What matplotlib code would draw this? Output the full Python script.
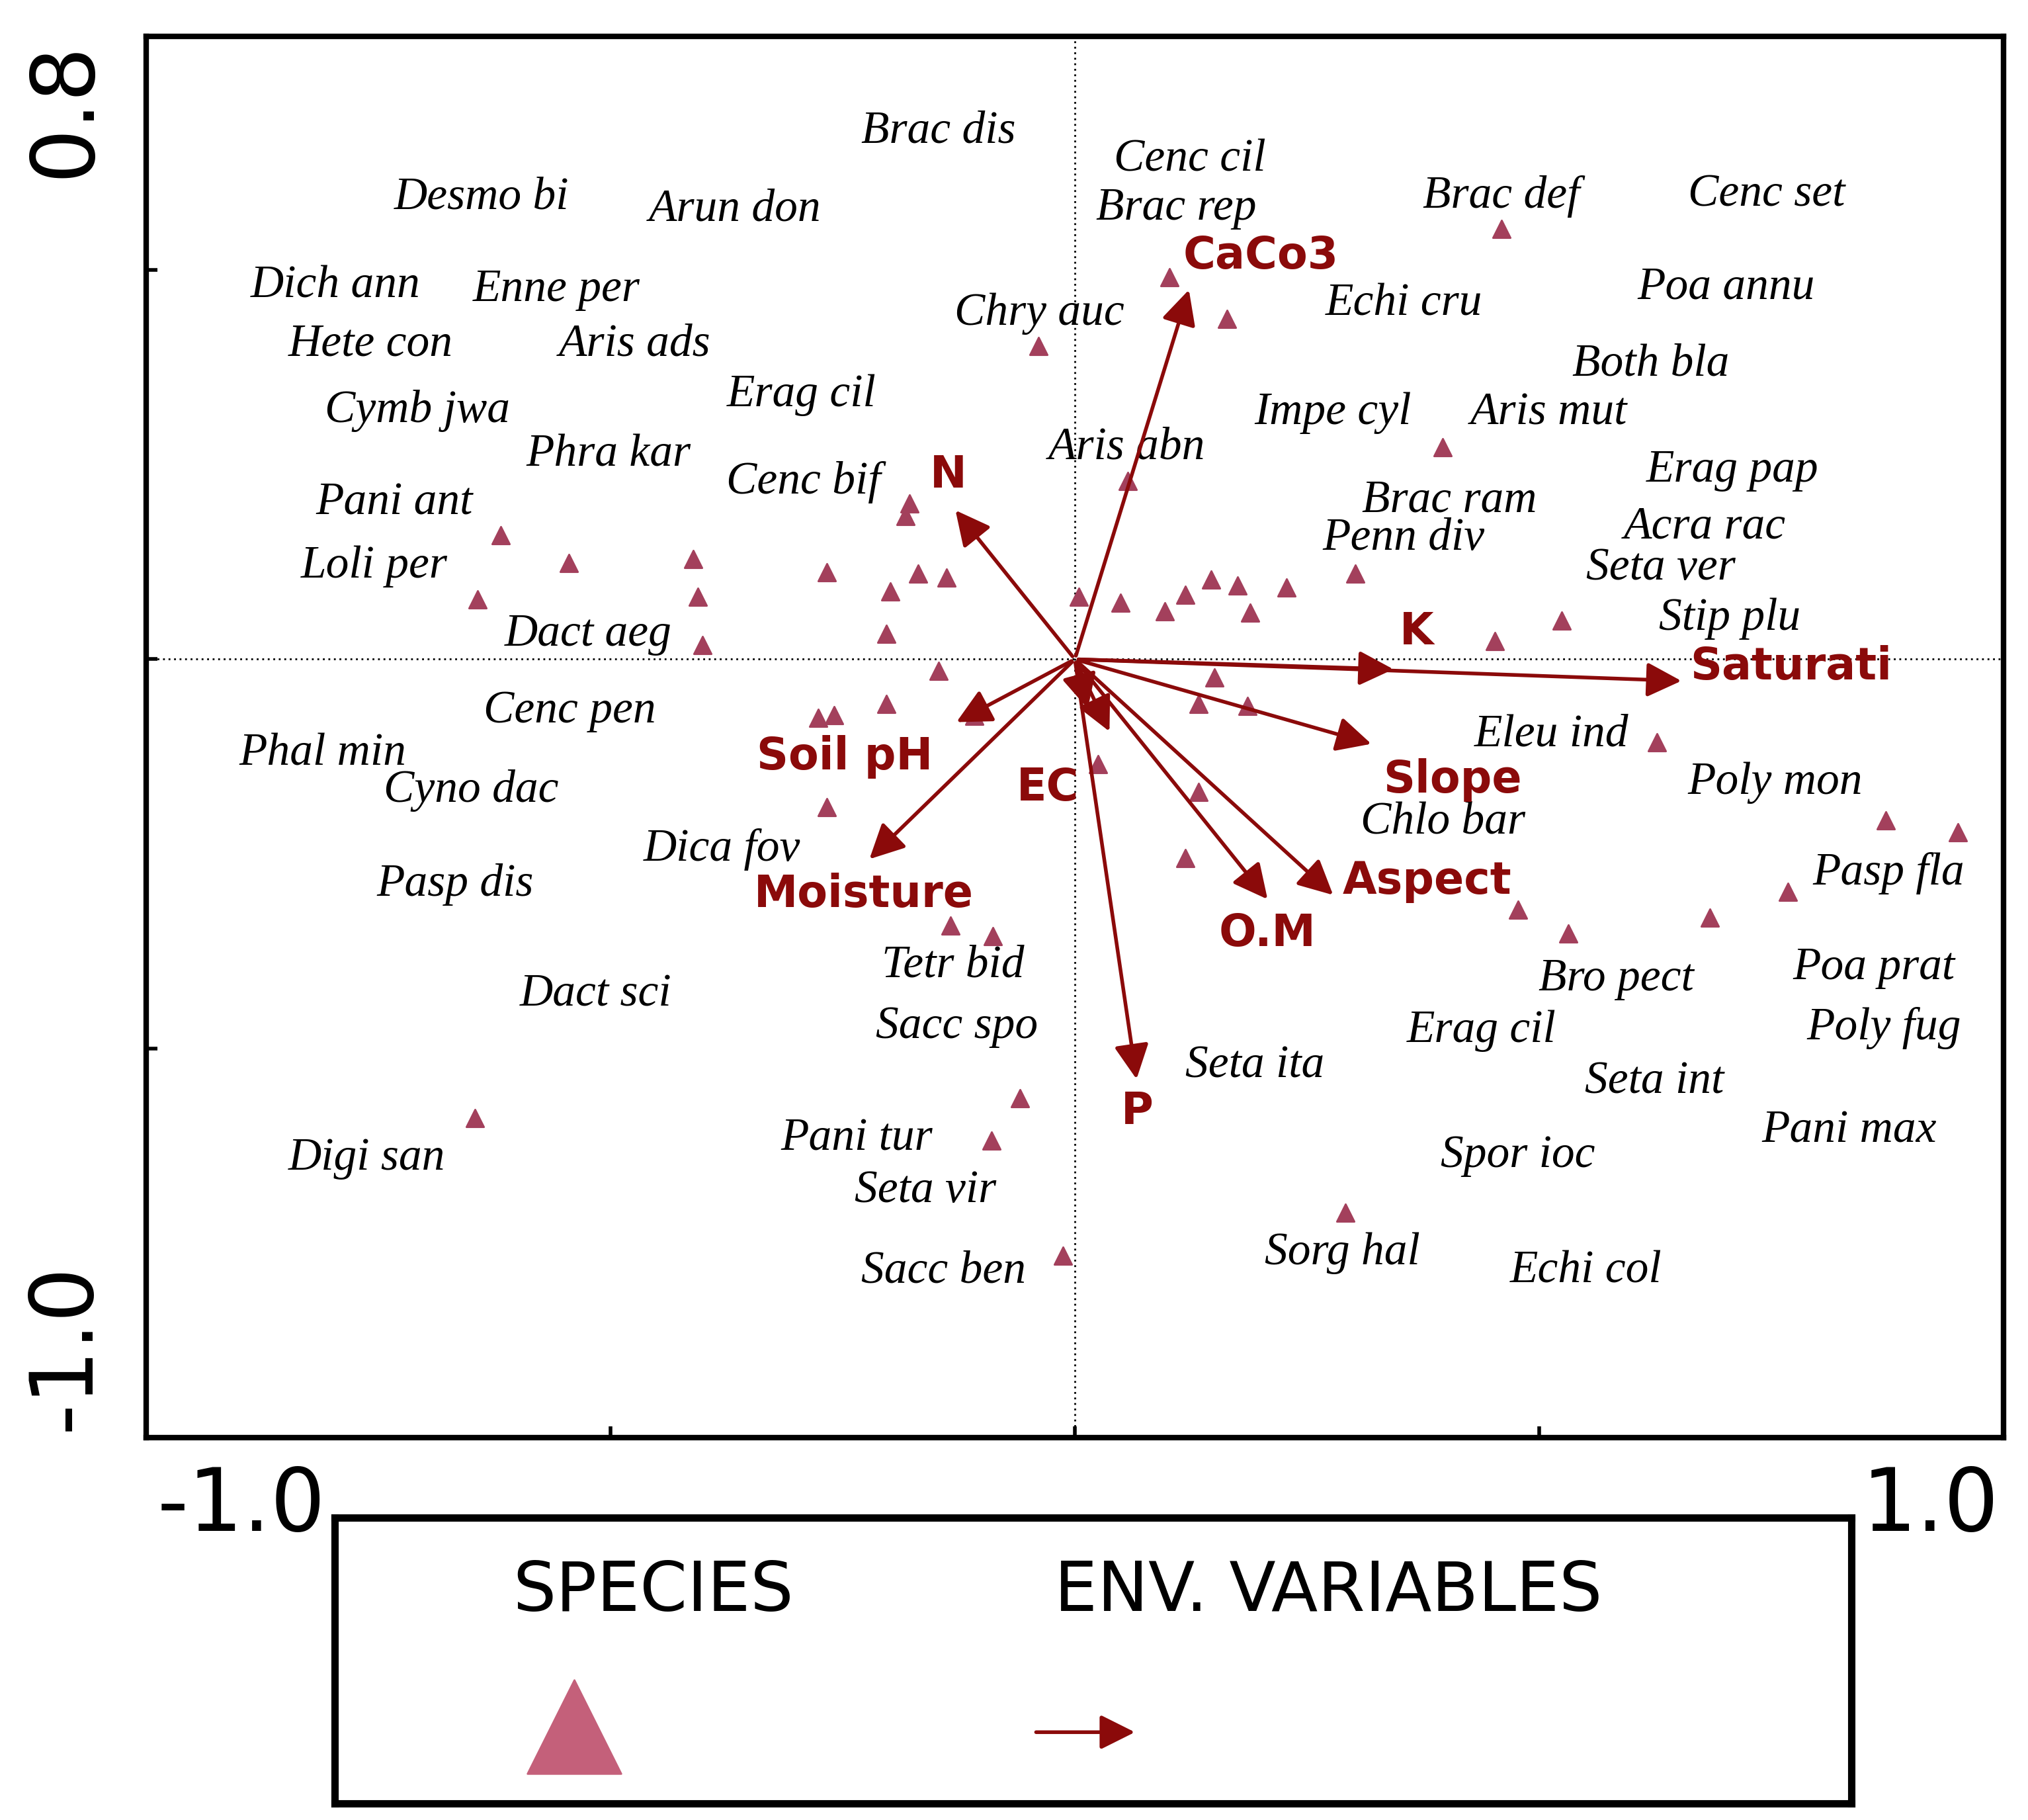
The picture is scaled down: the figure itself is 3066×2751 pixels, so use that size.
import matplotlib.pyplot as plt
from matplotlib.patches import FancyArrowPatch

# species scores (triangles)
sp_x = [-0.618, -0.545, -0.411, -0.643, -0.406, -0.401, -0.267, -0.178, -0.182, -0.169,
        -0.138, -0.199, -0.203, -0.147, -0.276, -0.259, -0.203, -0.108, -0.267, -0.134,
        -0.088, -0.059, -0.090, -0.013, -0.646, -0.039, 0.102, 0.164, 0.057, 0.004,
        0.049, 0.097, 0.119, 0.147, 0.175, 0.189, 0.228, 0.302, 0.396, 0.459,
        0.452, 0.524, 0.150, 0.133, 0.186, 0.025, 0.133, 0.119, 0.477, 0.531,
        0.684, 0.768, 0.873, 0.951, 0.627, 0.291]
sp_y = [0.159, 0.124, 0.129, 0.077, 0.080, 0.018, 0.112, 0.200, 0.184, 0.110,
        0.105, 0.087, 0.033, -0.015, -0.075, -0.072, -0.057, -0.073, -0.190, -0.342,
        -0.356, -0.564, -0.618, -0.766, -0.589, 0.402, 0.491, 0.437, 0.229, 0.080,
        0.073, 0.062, 0.083, 0.102, 0.095, 0.060, 0.092, 0.110, 0.272, 0.553,
        0.023, 0.050, -0.023, -0.057, -0.060, -0.135, -0.170, -0.255, -0.322, -0.352,
        -0.332, -0.299, -0.207, -0.222, -0.107, -0.711]

# species names and where they are written
names = ["Brac dis", "Cenc cil", "Desmo bi", "Arun don", "Brac rep", "Brac def", "Cenc set",
         "Dich ann", "Enne per", "Chry auc", "Echi cru", "Poa annu", "Hete con", "Aris ads",
         "Both bla", "Erag cil", "Cymb jwa", "Impe cyl", "Aris mut", "Phra kar", "Aris abn",
         "Cenc bif", "Erag pap", "Pani ant", "Brac ram", "Acra rac", "Penn div", "Loli per",
         "Seta ver", "Dact aeg", "Stip plu", "Cenc pen", "Eleu ind", "Phal min", "Cyno dac",
         "Poly mon", "Chlo bar", "Dica fov", "Pasp fla", "Pasp dis", "Tetr bid", "Bro pect",
         "Poa prat", "Dact sci", "Sacc spo", "Erag cil", "Poly fug", "Seta ita", "Seta int",
         "Pani max", "Pani tur", "Spor ioc", "Digi san", "Seta vir", "Sorg hal", "Sacc ben",
         "Echi col"]
name_x = [-0.147, 0.124, -0.639, -0.366, 0.109, 0.459, 0.745, -0.796, -0.558, -0.038,
          0.354, 0.701, -0.758, -0.474, 0.620, -0.294, -0.708, 0.278, 0.510, -0.502,
          0.056, -0.292, 0.708, -0.733, 0.403, 0.678, 0.354, -0.754, 0.631, -0.524,
          0.705, -0.544, 0.513, -0.810, -0.650, 0.754, 0.396, -0.380, 0.876, -0.667,
          -0.131, 0.583, 0.860, -0.516, -0.127, 0.438, 0.871, 0.194, 0.624, 0.834,
          -0.235, 0.477, -0.762, -0.161, 0.288, -0.141, 0.550]
name_y = [0.678, 0.641, 0.593, 0.578, 0.579, 0.594, 0.596, 0.479, 0.474, 0.444,
          0.456, 0.477, 0.404, 0.404, 0.379, 0.339, 0.319, 0.316, 0.316, 0.262,
          0.272, 0.227, 0.242, 0.200, 0.204, 0.170, 0.155, 0.119, 0.117, 0.032,
          0.052, -0.067, -0.097, -0.122, -0.169, -0.159, -0.209, -0.244, -0.275, -0.289,
          -0.394, -0.411, -0.397, -0.431, -0.472, -0.477, -0.474, -0.523, -0.543, -0.606,
          -0.616, -0.638, -0.641, -0.683, -0.763, -0.786, -0.786]

# environmental variables (arrows)
env = ["CaCo3", "N", "K", "Saturati", "Slope", "Aspect", "O.M", "P", "EC", "", "Soil pH", "Moisture"]
env_x = [0.124, -0.131, 0.347, 0.657, 0.323, 0.281, 0.210, 0.067, 0.039, 0.015, -0.131, -0.224]
env_y = [0.479, 0.195, -0.013, -0.028, -0.110, -0.306, -0.312, -0.544, -0.097, -0.068, -0.083, -0.260]
env_lx = [0.200, -0.136, 0.368, 0.771, 0.407, 0.379, 0.207, 0.067, -0.029, 0, -0.248, -0.227]
env_ly = [0.518, 0.237, 0.035, -0.010, -0.155, -0.285, -0.352, -0.581, -0.165, 0, -0.125, -0.302]

red = '#8b0a0a'
tri = '#a3405c'

fig = plt.figure(figsize=(15.33, 13.755), dpi=200)
ax = fig.add_axes([0.072, 0.21, 0.916, 0.77])
ax.set_xlim(-1.0, 1.0)
ax.set_ylim(-1.0, 0.8)
ax.axhline(0, color='black', lw=1, ls=(0, (1, 2)))
ax.axvline(0, color='black', lw=1, ls=(0, (1, 2)))
for s in ax.spines.values():
    s.set_linewidth(3)
ax.set_xticks([-1.0, -0.5, 0, 0.5, 1.0])
ax.set_yticks([-0.5, 0, 0.5])
ax.tick_params(labelbottom=False, labelleft=False, direction='in', length=6, width=2)

ax.scatter(sp_x, sp_y, marker='^', s=90, color=tri, zorder=3)

for n, x, y in zip(names, name_x, name_y):
    ax.text(x, y, n, family='Liberation Serif', style='italic', fontsize=25,
            ha='center', va='center')

for n, x, y, lx, ly in zip(env, env_x, env_y, env_lx, env_ly):
    ax.add_patch(FancyArrowPatch((0, 0), (x, y), arrowstyle='-|>', mutation_scale=40,
                                 color=red, lw=2, zorder=4))
    if n:
        ax.text(lx, ly, n, color=red, fontsize=24, fontweight='bold', ha='center',
                va='center', family='DejaVu Sans')

# axis end labels
fig.text(0.119, 0.172, "-1.0", fontsize=47, ha='center', va='center')
fig.text(0.952, 0.172, "1.0", fontsize=47, ha='center', va='center')
fig.text(0.032, 0.94, "0.8", fontsize=47, ha='center', va='center', rotation=90)
fig.text(0.032, 0.26, "-1.0", fontsize=47, ha='center', va='center', rotation=90)

# legend box
lg = fig.add_axes([0.165, 0.009, 0.748, 0.157])
lg.set_xlim(0, 1)
lg.set_ylim(0, 1)
lg.set_xticks([])
lg.set_yticks([])
for s in lg.spines.values():
    s.set_linewidth(4)
lg.text(0.21, 0.74, "SPECIES", fontsize=37, ha='center', va='center')
lg.text(0.655, 0.74, "ENV. VARIABLES", fontsize=37, ha='center', va='center')
lg.scatter([0.158], [0.27], marker='^', s=2600, color='#c4607a')
lg.add_patch(FancyArrowPatch((0.46, 0.25), (0.53, 0.25), arrowstyle='-|>',
                             mutation_scale=40, color=red, lw=2))

fig.savefig('out.png', dpi=200)
